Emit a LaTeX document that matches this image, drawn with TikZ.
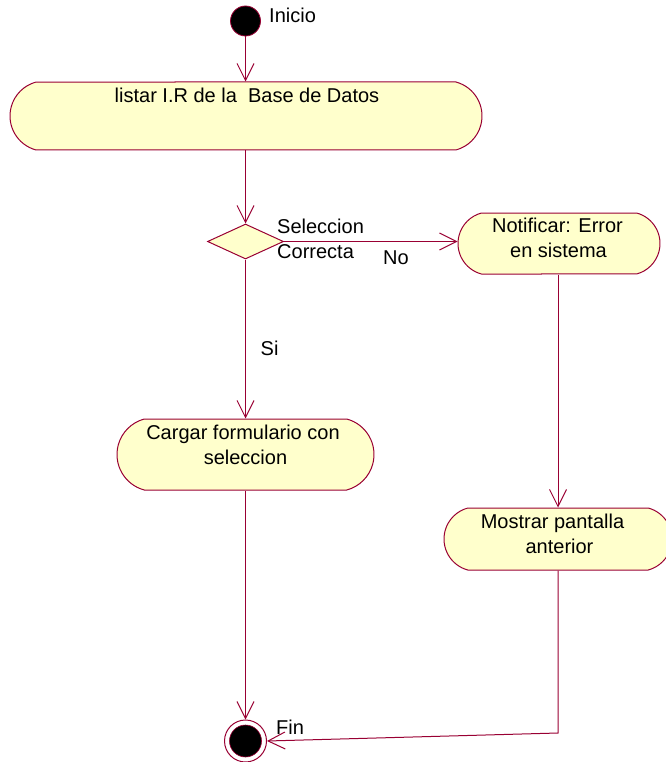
\documentclass[tikz,border=0pt]{standalone}
\usepackage{fontspec}
\setmainfont{Liberation Sans}
\usetikzlibrary{shapes.misc,shapes.geometric,arrows.meta}
\definecolor{umlline}{RGB}{153,0,51}
\definecolor{umlfill}{RGB}{255,255,204}
\begin{document}
\begin{tikzpicture}[x=1pt,y=-1pt,
  font=\fontsize{20}{25}\selectfont,
  activity/.style={rounded rectangle, rounded rectangle arc length=150, draw=umlline, fill=umlfill, line width=1pt, inner sep=0pt},
  decision/.style={diamond, draw=umlline, fill=umlfill, line width=1pt, inner sep=0pt, minimum width=76pt, minimum height=35pt},
  flow/.style={draw=umlline, line width=1pt, -{Straight Barb[length=17pt,width=17pt,line width=1pt]}},
  plain/.style={draw=umlline, line width=1pt},
  lbl/.style={inner sep=0pt, text=black}
]
\useasboundingbox (0,0) rectangle (665,762);

% nodes
\node[circle, fill=black, draw=umlline, line width=0.8pt, minimum size=30pt, inner sep=0pt] (start) at (245.5,21) {};
\node[lbl, anchor=base west] (inicio) at (269,23) {Inicio};

\node[activity, minimum width=472pt, minimum height=68pt] (listar) at (246,116) {};
\node[lbl, anchor=base] (listarT) at (247,103) {listar I.R de la\ \ Base de Datos};

\node[decision] (dia) at (245.5,241.5) {};
\node[lbl, anchor=base west] (sel1) at (277,233) {Seleccion};
\node[lbl, anchor=base west] (sel2) at (277,258) {Correcta};
\node[lbl, anchor=base west] (no) at (383,264) {No};
\node[lbl, anchor=base west] (si) at (260.5,355) {Si};

\node[activity, minimum width=202pt, minimum height=61pt] (notif) at (559,243.5) {};
\node[lbl, anchor=base] (notifT1) at (557.5,232) {Notificar: Error};
\node[lbl, anchor=base] (notifT2) at (558.5,257) {en sistema};

\node[activity, minimum width=257pt, minimum height=71pt] (cargar) at (245.5,454.5) {};
\node[lbl, anchor=base] (cargarT1) at (243,439) {Cargar formulario con};
\node[lbl, anchor=base] (cargarT2) at (245.5,464) {seleccion};

\node[activity, minimum width=228pt, minimum height=62pt] (mostrar) at (558,539) {};
\node[lbl, anchor=base] (mostrarT1) at (552.5,528) {Mostrar pantalla};
\node[lbl, anchor=base] (mostrarT2) at (559.5,553) {anterior};

\node[circle, draw=umlline, fill=white, line width=1pt, minimum size=42pt, inner sep=0pt] (endc) at (245.5,741) {};
\node[circle, fill=black, draw=umlline, line width=0.6pt, minimum size=32pt, inner sep=0pt] (endin) at (245.5,741) {};
\node[lbl, anchor=base west] (fin) at (276,734) {Fin};

\coordinate (corner) at (558,733);

% connectors
\draw[flow] (start.south) -- (start.south |- listar.north);
\draw[flow] (listar.south -| dia.north) -- (dia.north);
\draw[flow] (dia.east) -- (dia.east -| notif.west);
\draw[flow] (dia.south) -- (cargar.north);
\draw[flow] (notif.south -| corner) -- (corner |- mostrar.north);
\draw[flow] (cargar.south) -- (endc.north);
\draw[flow] (mostrar.south -| corner) -- (corner) -- (endc.east);
\end{tikzpicture}
\end{document}
